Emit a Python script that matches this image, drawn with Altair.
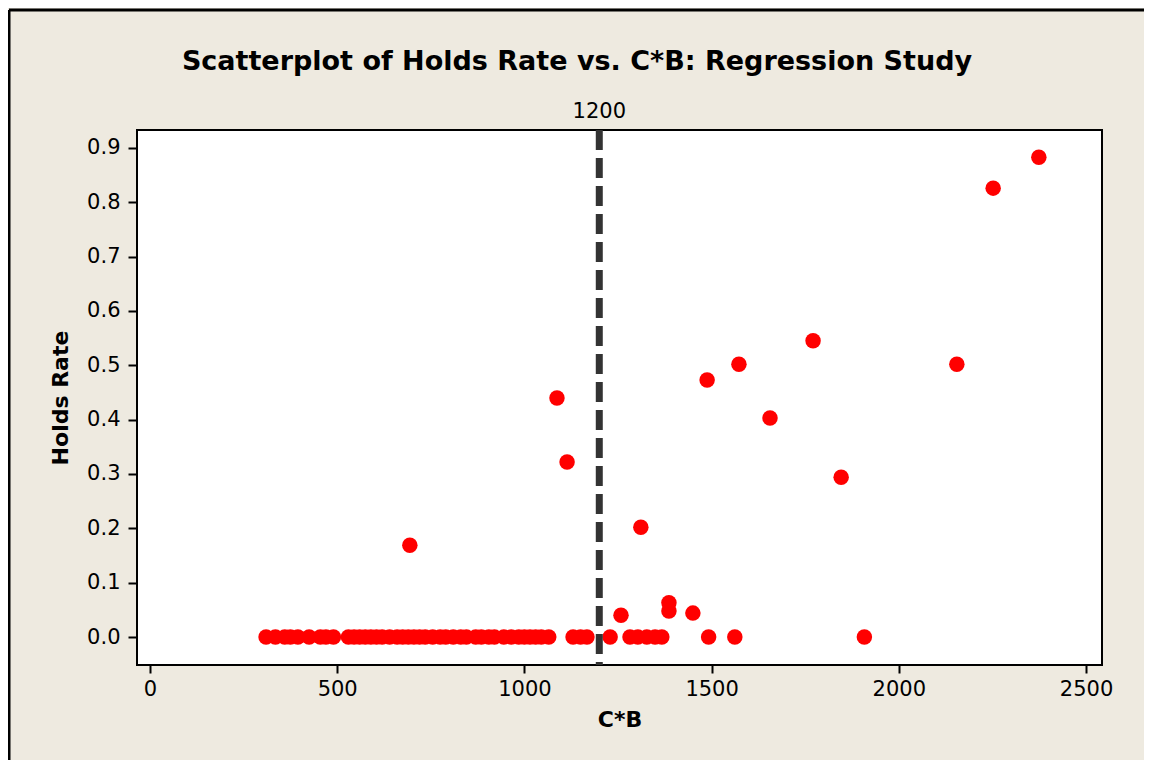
import altair as alt
import pandas as pd

# Points on the zero line
zero_cb = [310, 335, 360, 375, 395, 425, 455, 470, 490, 530, 545, 560, 575, 590,
           605, 620, 640, 660, 675, 690, 705, 720, 735, 755, 775, 790, 810, 830,
           845, 870, 885, 905, 920, 945, 965, 985, 1000, 1015, 1030, 1045, 1065,
           1130, 1150, 1167, 1229, 1282, 1303, 1327, 1349, 1367, 1492, 1562, 1908]
# Points above zero
pos_cb = [694, 1087, 1114, 1258, 1311, 1386, 1386, 1450, 1488, 1573, 1656, 1771,
          1846, 2155, 2252, 2374]
pos_rate = [0.169, 0.44, 0.322, 0.04, 0.202, 0.063, 0.048, 0.044, 0.473, 0.502,
            0.403, 0.545, 0.294, 0.502, 0.826, 0.883]

ref_line = [1200]
x_ticks = [0, 500, 1000, 1500, 2000, 2500]
y_ticks = [0.0, 0.1, 0.2, 0.3, 0.4, 0.5, 0.6, 0.7, 0.8, 0.9]

cb = zero_cb + pos_cb
rate = [0.0] * len(zero_cb) + pos_rate
df = pd.DataFrame({"cb": cb, "rate": rate})
ref_df = pd.DataFrame({"x": ref_line, "label": [str(v) for v in ref_line]})

W, H = 965, 535
LABEL_FONT = "DejaVu Sans"
BOLD_FONT = "DejaVu Sans"

xscale = alt.Scale(domain=[-34.7, 2542.7], nice=False, zero=False)
yscale = alt.Scale(domain=[-0.0515, 0.933], nice=False, zero=False)

points = alt.Chart(df).mark_circle(size=240, color="#FF0000", opacity=1).encode(
    x=alt.X("cb:Q", scale=xscale, title="C*B",
            axis=alt.Axis(values=x_ticks, format="d", grid=False, domain=False,
                          tickColor="black", tickWidth=2, tickSize=8,
                          labelFont=LABEL_FONT, labelFontSize=21, labelColor="black",
                          labelPadding=5, titleFont=BOLD_FONT, titleFontSize=22,
                          titleFontWeight="bold", titleColor="black", titlePadding=10)),
    y=alt.Y("rate:Q", scale=yscale, title="Holds Rate",
            axis=alt.Axis(values=y_ticks, format=".1f", grid=False, domain=False,
                          tickColor="black", tickWidth=2, tickSize=9,
                          labelFont=LABEL_FONT, labelFontSize=21, labelColor="black",
                          labelPadding=8, titleFont=BOLD_FONT, titleFontSize=22,
                          titleFontWeight="bold", titleColor="black", titlePadding=14)),
)

rule = alt.Chart(ref_df).mark_rule(color="#333333", strokeWidth=7,
                                   strokeDash=[20, 8]).encode(
    x=alt.X("x:Q", scale=xscale)
)

rule_label = alt.Chart(ref_df).mark_text(
    font=LABEL_FONT, fontSize=21, color="black", baseline="middle"
).encode(x=alt.X("x:Q", scale=xscale), y=alt.value(-18), text="label:N")

title = alt.Chart(ref_df).mark_text(
    text="Scatterplot of Holds Rate vs. C*B: Regression Study",
    font=BOLD_FONT, fontSize=27, fontWeight="bold", color="black",
    baseline="middle", align="center"
).encode(x=alt.value(440), y=alt.value(-68))

border_top = alt.Chart(ref_df).mark_rule(color="black", strokeWidth=3).encode(
    x=alt.value(-128), x2=alt.value(W + 50), y=alt.value(-120)
)
border_left = alt.Chart(ref_df).mark_rule(color="black", strokeWidth=3).encode(
    x=alt.value(-128), y=alt.value(-120), y2=alt.value(H + 100)
)

chart = alt.layer(border_top, border_left, points, rule, rule_label, title).properties(
    width=W, height=H,
    padding={"left": 129, "top": 122, "right": 42, "bottom": 95},
    autosize=alt.AutoSizeParams(type="none"),
    background="#EEEAE0",
).configure_view(
    stroke="black", strokeWidth=2, fill="white"
)

chart.save("out.html", embed_options={"renderer": "svg", "actions": False})
